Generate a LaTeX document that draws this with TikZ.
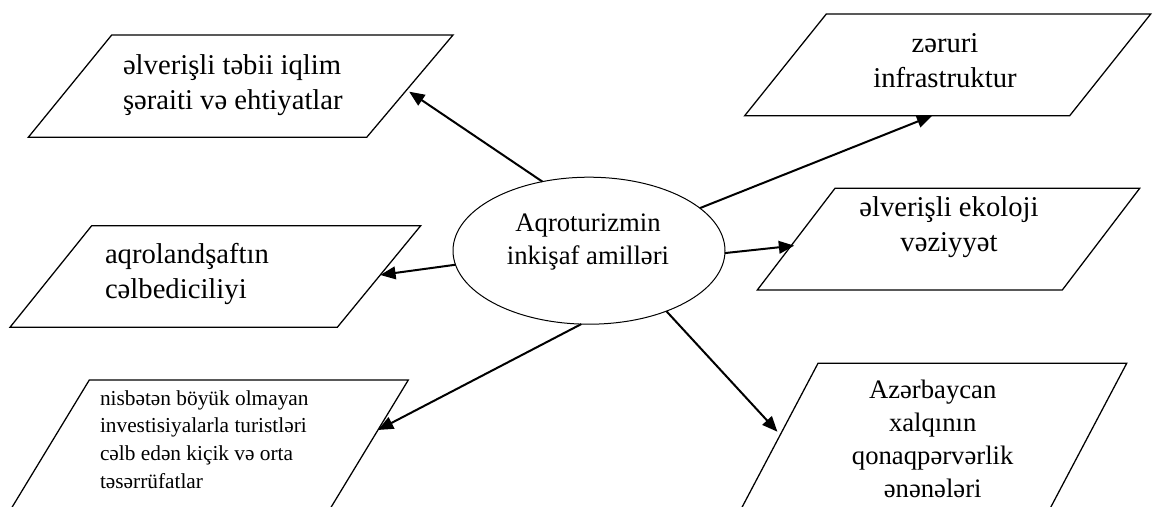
\documentclass[tikz,border=0pt]{standalone}
\usepackage{fontspec}
\setmainfont{Liberation Serif}
\usetikzlibrary{shapes.geometric,arrows.meta,calc}
\begin{document}
\begin{tikzpicture}[x=0.75pt,y=-0.75pt,
  pbox/.style={draw=black,line width=0.95pt,line join=miter},
  conn/.style={line width=1.5pt,-{Triangle[length=11.5pt,width=9.5pt]}},
  ltext/.style={anchor=base west,inner sep=0pt,outer sep=0pt},
  ctext/.style={anchor=base,inner sep=0pt,outer sep=0pt},
  bigfont/.style={font=\fontsize{21.5}{26.4}\selectfont},
  midfont/.style={font=\fontsize{20}{24.8}\selectfont},
  smallfont/.style={font=\fontsize{16}{20.85}\selectfont}]
\useasboundingbox (0,0) rectangle (1154,507);
\fill[white] (0,0) rectangle (1154,507);
\clip (0,0) rectangle (1154,507);

% corners of the parallelograms
\coordinate (b1tl) at (111.7,35);   \coordinate (b1tr) at (453,35);
\coordinate (b1br) at (366.7,137.3);\coordinate (b1bl) at (28.3,137.3);
\coordinate (b2tl) at (91.7,225.7); \coordinate (b2tr) at (420.7,225.7);
\coordinate (b2br) at (337.3,327.3);\coordinate (b2bl) at (10,327.3);
\coordinate (b3tl) at (89.3,380);   \coordinate (b3tr) at (408.3,380);
\coordinate (b3br) at (323.3,520);  \coordinate (b3bl) at (4.3,520);
\coordinate (b4tl) at (826.3,14);   \coordinate (b4tr) at (1150.7,14);
\coordinate (b4br) at (1069.7,115.7);\coordinate (b4bl) at (744.7,115.7);
\coordinate (b5tl) at (835,188.3);  \coordinate (b5tr) at (1139.7,188.3);
\coordinate (b5br) at (1062.3,290); \coordinate (b5bl) at (757.3,290);
\coordinate (b6tl) at (818,363.3);  \coordinate (b6tr) at (1126.7,363.3);
\coordinate (b6br) at (1044,520);   \coordinate (b6bl) at (735.3,520);

\draw[pbox] (b1tl) -- (b1tr) -- (b1br) -- (b1bl) -- cycle;
\draw[pbox] (b2tl) -- (b2tr) -- (b2br) -- (b2bl) -- cycle;
\draw[pbox] (b3tl) -- (b3tr) -- (b3br) -- (b3bl) -- cycle;
\draw[pbox] (b4tl) -- (b4tr) -- (b4br) -- (b4bl) -- cycle;
\draw[pbox] (b5tl) -- (b5tr) -- (b5br) -- (b5bl) -- cycle;
\draw[pbox] (b6tl) -- (b6tr) -- (b6br) -- (b6bl) -- cycle;

% texts
\node[ltext,bigfont] (t1) at (123,74)
  {\begin{tabular}[t]{@{}l@{}}əlverişli təbii iqlim\\şəraiti və ehtiyatlar\end{tabular}};
\node[ltext,bigfont] (t2) at (105,263.3)
  {\begin{tabular}[t]{@{}l@{}}aqrolandşaftın\\cəlbediciliyi\end{tabular}};
\node[ltext,smallfont] (t3) at (100,405)
  {\begin{tabular}[t]{@{}l@{}}nisbətən böyük olmayan\\investisiyalarla turistləri\\cəlb edən kiçik və orta\\təsərrüfatlar\end{tabular}};
\node[ctext,bigfont] (t4) at (945,52.7)
  {\begin{tabular}[t]{@{}c@{}}zəruri\\infrastruktur\end{tabular}};
\node[ctext,bigfont] (t5) at (949,216)
  {\begin{tabular}[t]{@{}c@{}}əlverişli ekoloji\\vəziyyət\end{tabular}};
\node[ctext,midfont] (t6) at (932.7,398.3)
  {\begin{tabular}[t]{@{}c@{}}Azərbaycan\\xalqının\\qonaqpərvərlik\\ənənələri\end{tabular}};

% central ellipse
\node[draw=black,line width=0.75pt,ellipse,minimum width=204pt,minimum height=110.25pt,
      inner sep=0pt,outer sep=0pt] (ell) at (589,250.7) {};
\node[ctext,midfont] (te) at (588,231.7)
  {\begin{tabular}[t]{@{}c@{}}Aqroturizmin\\inkişaf amilləri\end{tabular}};

% connectors
\draw[conn] (ell.124.6) -- ($(b1tr)!0.554!(b1br)+(4,0)$);
\draw[conn] (ell.186.6) -- ($(b2tr)!0.485!(b2br)$);
\draw[conn] (ell.264.3) -- ($(b3tr)!0.357!(b3br)$);
\draw[conn] (ell.21.2)  -- ($(b4bl)!0.577!(b4br)$);
\draw[conn] (ell.-1.8)  -- ($(b5tl)!0.564!(b5bl)+(3,0)$);
\draw[conn] (ell.-38.6) -- ($(b6tl)!0.4365!(b6bl)+(-4.5,0)$);
\end{tikzpicture}
\end{document}
